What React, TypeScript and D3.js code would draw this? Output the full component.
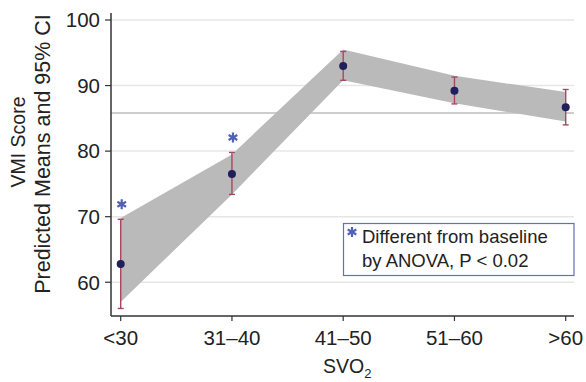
import React, { useEffect, useRef } from "react";
import * as d3 from "d3";

const categories = ["<30", "31–40", "41–50", "51–60", ">60"];
const means = [62.8, 76.5, 93.0, 89.2, 86.7];
const ciLow = [56.0, 73.4, 90.8, 87.2, 84.0];
const ciHigh = [69.6, 79.8, 95.2, 91.3, 89.4];
const bandLow = [57.0, 73.4, 90.8, 87.3, 84.5];
const bandHigh = [69.8, 79.5, 95.5, 91.5, 89.0];
const significant = ["<30", "31–40"];
const yTicks = [60, 70, 80, 90, 100];
const baseline = 85.8;
const legendLines = ["Different from baseline", "by ANOVA, P < 0.02"];

const FONT = "'Liberation Sans', Arial, Helvetica, sans-serif";

const App = () => {
  const svgRef = useRef<SVGSVGElement>(null);

  useEffect(() => {
    const svg = d3.select(svgRef.current);
    svg.selectAll("*").remove();

    const left = 111;
    const right = 574;
    const bottom = 316;
    const top = 13;

    const x = d3.scalePoint<string>().domain(categories).range([120.7, 565.7]);
    const y = d3.scaleLinear().domain([54.85, 100]).range([bottom, 20]);

    // grid lines
    svg
      .append("g")
      .selectAll("line")
      .data(yTicks)
      .enter()
      .append("line")
      .attr("x1", left)
      .attr("x2", right)
      .attr("y1", (d) => y(d))
      .attr("y2", (d) => y(d))
      .attr("stroke", "#e6e6e6")
      .attr("stroke-width", 1.5);

    // baseline reference
    svg
      .append("line")
      .attr("x1", left)
      .attr("x2", right)
      .attr("y1", y(baseline))
      .attr("y2", y(baseline))
      .attr("stroke", "#bcbcbc")
      .attr("stroke-width", 1.5);

    // shaded band
    const area = d3
      .area<number>()
      .x((_, i) => x(categories[i]) as number)
      .y0((_, i) => y(bandLow[i]))
      .y1((_, i) => y(bandHigh[i]));
    svg
      .append("path")
      .datum(means)
      .attr("d", area)
      .attr("fill", "#bababa");

    // error bars
    const eb = svg.append("g").attr("stroke", "#a8485e").attr("stroke-width", 1.4);
    categories.forEach((c, i) => {
      const cx = x(c) as number;
      eb.append("line").attr("x1", cx).attr("x2", cx).attr("y1", y(ciLow[i])).attr("y2", y(ciHigh[i]));
      eb.append("line").attr("x1", cx - 3).attr("x2", cx + 3).attr("y1", y(ciLow[i])).attr("y2", y(ciLow[i]));
      eb.append("line").attr("x1", cx - 3).attr("x2", cx + 3).attr("y1", y(ciHigh[i])).attr("y2", y(ciHigh[i]));
    });

    // means
    svg
      .append("g")
      .selectAll("circle")
      .data(means)
      .enter()
      .append("circle")
      .attr("cx", (_, i) => x(categories[i]) as number)
      .attr("cy", (d) => y(d))
      .attr("r", 4)
      .attr("fill", "#1f1f5c");

    // asterisks
    const star = d3.symbol().type(d3.symbolAsterisk).size(70);
    significant.forEach((c) => {
      const i = categories.indexOf(c);
      svg
        .append("path")
        .attr("d", star)
        .attr("transform", `translate(${(x(c) as number) + 1},${y(ciHigh[i]) - 15})`)
        .attr("stroke", "#5261b3")
        .attr("stroke-width", 2.2)
        .attr("fill", "none");
    });

    // axes
    svg
      .append("line")
      .attr("x1", left)
      .attr("x2", left)
      .attr("y1", top)
      .attr("y2", bottom)
      .attr("stroke", "#333")
      .attr("stroke-width", 1.5);
    svg
      .append("line")
      .attr("x1", left)
      .attr("x2", right)
      .attr("y1", bottom)
      .attr("y2", bottom)
      .attr("stroke", "#333")
      .attr("stroke-width", 1.5);

    const yt = svg.append("g");
    yTicks.forEach((t) => {
      yt.append("line")
        .attr("x1", left - 6)
        .attr("x2", left)
        .attr("y1", y(t))
        .attr("y2", y(t))
        .attr("stroke", "#333")
        .attr("stroke-width", 1.2);
      yt.append("text")
        .attr("x", left - 11)
        .attr("y", y(t))
        .attr("dy", "0.36em")
        .attr("text-anchor", "end")
        .attr("font-family", FONT)
        .attr("font-size", "20.5px")
        .attr("fill", "#222")
        .text(t);
    });

    const xt = svg.append("g");
    categories.forEach((c) => {
      xt.append("line")
        .attr("x1", x(c) as number)
        .attr("x2", x(c) as number)
        .attr("y1", bottom)
        .attr("y2", bottom + 5)
        .attr("stroke", "#333")
        .attr("stroke-width", 1.2);
      xt.append("text")
        .attr("x", x(c) as number)
        .attr("y", 345)
        .attr("text-anchor", "middle")
        .attr("font-family", FONT)
        .attr("font-size", "20.5px")
        .attr("fill", "#222")
        .text(c);
    });

    // x label
    const xl = svg
      .append("text")
      .attr("x", (x("41–50") as number) + 4)
      .attr("y", 373)
      .attr("text-anchor", "middle")
      .attr("font-family", FONT)
      .attr("font-size", "19.5px")
      .attr("fill", "#222");
    xl.append("tspan").text("SVO");
    xl.append("tspan").attr("font-size", "13px").attr("dy", 5).text("2");

    // y label
    svg
      .append("text")
      .attr("transform", "rotate(-90)")
      .attr("x", -142)
      .attr("y", 25)
      .attr("text-anchor", "middle")
      .attr("font-family", FONT)
      .attr("font-size", "19.5px")
      .attr("fill", "#222")
      .text("VMI Score");
    svg
      .append("text")
      .attr("transform", "rotate(-90)")
      .attr("x", -154)
      .attr("y", 50)
      .attr("text-anchor", "middle")
      .attr("font-family", FONT)
      .attr("font-size", "21.5px")
      .attr("fill", "#222")
      .text("Predicted Means and 95% CI");

    // legend
    const lg = svg.append("g");
    lg.append("rect")
      .attr("x", 343.5)
      .attr("y", 223.5)
      .attr("width", 230.5)
      .attr("height", 52)
      .attr("fill", "white")
      .attr("stroke", "#6472b4")
      .attr("stroke-width", 1.2);
    lg.append("path")
      .attr("d", star)
      .attr("transform", "translate(352,232)")
      .attr("stroke", "#5261b3")
      .attr("stroke-width", 2.2)
      .attr("fill", "none");
    legendLines.forEach((l, i) => {
      lg.append("text")
        .attr("x", 362)
        .attr("y", 243 + i * 24)
        .attr("font-family", FONT)
        .attr("font-size", "18.5px")
        .attr("fill", "#222")
        .text(l);
    });
  }, []);

  return (
    <svg
      ref={svgRef}
      width={586}
      height={382}
      style={{ position: "absolute", left: 0, top: 0, background: "white" }}
    ></svg>
  );
};

export default App;
